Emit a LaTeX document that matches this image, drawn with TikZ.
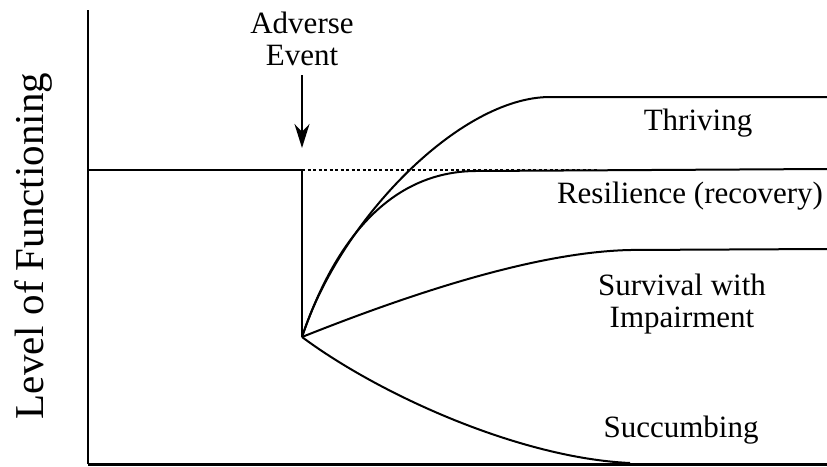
\documentclass[tikz,border=0pt]{standalone}
\usepackage{fontspec}
\newfontfamily\tms{Liberation Serif}
\usetikzlibrary{arrows.meta,positioning}
\tikzset{
    %Define standard arrow tip
    >={Stealth[length=24pt,width=15pt]},
    %Define style for labels
    lbl/.style={
           inner sep = 0pt,
           anchor = base,
           font = \tms\fontsize{31}{32}\selectfont},
    % Define line styles
    axs/.style={
           line width = 2.5pt},
    crv/.style={
           line width = 2pt},
    dts/.style={
           line width = 1.4pt,
           dash pattern = on 3pt off 2.5pt}
}

\begin{document}
\begin{tikzpicture}[x=1pt, y=-1pt]
\useasboundingbox (0,0) rectangle (827,466);
 %points
\coordinate (top) at (88,10);
\coordinate (origin) at (88,464);
\coordinate (xend) at (827,464);
\coordinate (level) at (88,170);
\coordinate (event) at (302,170);
\coordinate (drop) at (302,337);
\coordinate (arrtop) at (302,75);
\coordinate (arrtip) at (302,148);
\coordinate (dotend) at (597,170);
\coordinate (thr) at (550,97);
\coordinate (thrend) at (827,97);
\coordinate (res) at (475,171);
\coordinate (resend) at (827,169);
\coordinate (sur) at (630,250);
\coordinate (surend) at (827,249);
\coordinate (suc) at (630,463);
 %axes
\draw[axs] (top) -- (origin);
\draw[axs, line width = 3pt] (origin) -- (xend);
\node[rotate = 90, inner sep = 0pt, font = \tms\fontsize{41}{41}\selectfont]
    (ylab) at (33,246) {Level of Functioning};
 %event
\draw[crv] (level) -- (event) -- (drop);
\draw[dts] (event) -- (dotend);
\draw[->, line width = 2pt] (arrtop) -- (arrtip);
\node[lbl] (adv) at (302,33) {Adverse};
\node[lbl] (evt) at (302,65) {Event};
 %outcomes
\draw[crv] (drop) .. controls (340,220) and (460,97) .. (thr) -- (thrend);
\draw[crv] (drop) .. controls (335,240) and (390,172) .. (res) -- (resend);
\draw[crv] (drop) .. controls (420,290) and (540,252) .. (sur) -- (surend);
\draw[crv] (drop) .. controls (380,395) and (520,458) .. (suc);
\node[lbl] (thrlab) at (698,130) {Thriving};
\node[lbl] (reslab) at (690,203) {Resilience (recovery)};
\node[lbl] (surlab) at (682,295) {Survival with};
\node[lbl] (implab) at (682,327) {Impairment};
\node[lbl] (suclab) at (681,437) {Succumbing};
\end{tikzpicture}
\end{document}
